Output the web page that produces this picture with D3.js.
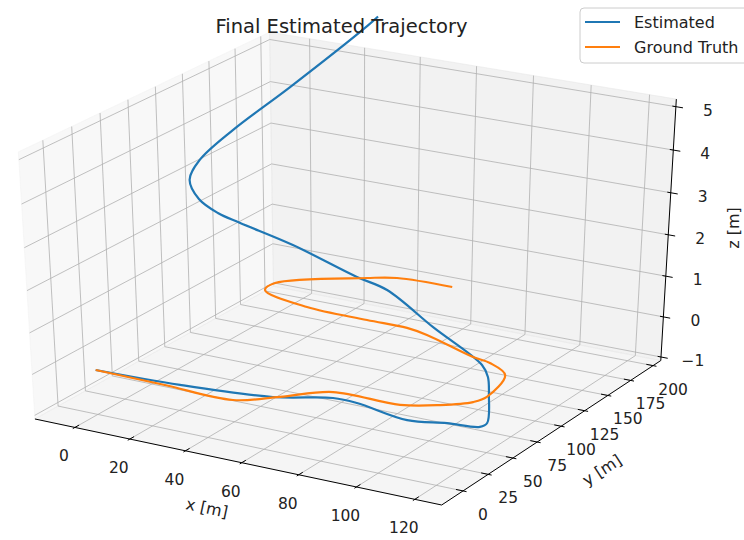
<!DOCTYPE html>
<html><head><meta charset="utf-8">
<script src="https://cdn.jsdelivr.net/npm/d3@7"></script>
<style>body{margin:0;background:#fff} svg{display:block}</style>
</head><body><svg id="c" width="744" height="540"></svg>
<script>
// ---------------- data ----------------
const titleText = "Final Estimated Trajectory";
const seriesNames = ["Estimated", "Ground Truth"];
const seriesColors = ["#1f77b4", "#ff7f0e"];
const xTicks = [0, 20, 40, 60, 80, 100, 120];
const yTicks = [0, 25, 50, 75, 100, 125, 150, 175, 200];
const zTicks = [-1, 0, 1, 2, 3, 4, 5];
const axisLabels = ["x [m]", "y [m]", "z [m]"];

const estX = [0, 29.4, 59.3, 75.5, 83.9, 102.5, 112.4, 122.5, 122.8, 115.1, 109.0, 104.1, 81.7, 59.9, 49.5, 24.7, 12.0, 7.4, 2.8, -0.7, -0.5, 6.3, 17.2, 30.6, 32.0];
const estY = [0, 2.8, 10.9, 24.3, 24.1, 20.8, 31.7, 35.1, 41.5, 65.6, 82.4, 90.6, 105.4, 120.6, 119.4, 123.9, 107.0, 98.1, 92.5, 93.3, 102.7, 116.8, 143.0, 182.5, 188.5];
const estZ = [0, 0, 0, 0, 0, -0.1, -0.2, -0.2, -0.2, 0, 0.1, 0.2, 0.6, 1.0, 1.2, 1.6, 2.2, 2.5, 2.85, 3.25, 3.6, 4.2, 5.0, 6.1, 6.25];

const gtX = [0, 25, 50.2, 61.1, 72.9, 96.0, 106.5, 113.9, 115.4, 111.1, 101.9, 94.8, 72.6, 64.0, 49.4, 26.8, 6.8, 6.1, 29.3, 37.7, 57.4];
const gtY = [0, -1, -2.3, 12.8, 31.4, 32.2, 41.6, 53.2, 62.7, 94.0, 105.4, 108.8, 125.5, 129.6, 129.9, 131.6, 143.4, 155.4, 185.8, 193.6, 195.5];
const gtZ = [0, 0, 0, 0, 0, 0, 0, 0, 0, 0, 0, 0, 0, 0, 0, 0, 0, 0, 0, 0, 0];

// ---------------- view / layout config ----------------
const xLim = [-14.7, 129.1], yLim = [-20.9, 208.7], zLim = [-1.089, 5.173];
const elev = 30, azim = -60, dist = 10;
const kx = 4695, ox = 352.7, ky = 3049, oy = 260.5;

const svg = d3.select("#c");
const font = "'DejaVu Sans', sans-serif";

const nx = d3.scaleLinear().domain(xLim).range([0, 1]);
const ny = d3.scaleLinear().domain(yLim).range([0, 1]);
const nz = d3.scaleLinear().domain(zLim).range([0, 1]);
const SX = d3.scaleLinear().domain([0, 0.1]).range([ox, ox + kx * 0.1]);
const SY = d3.scaleLinear().domain([0, 0.1]).range([oy, oy - ky * 0.1]);

const el = elev * Math.PI / 180, az = azim * Math.PI / 180;
const N = [Math.cos(el) * Math.cos(az), Math.cos(el) * Math.sin(az), Math.sin(el)];
let U = [-N[1], N[0], 0];
const un = Math.hypot(U[0], U[1]); U = U.map(v => v / un);
const V = [N[1] * U[2] - N[2] * U[1], N[2] * U[0] - N[0] * U[2], N[0] * U[1] - N[1] * U[0]];
const dot = (a, b) => a[0] * b[0] + a[1] * b[1] + a[2] * b[2];

function proj(x, y, z) {
  const p = [nx(x) - 0.5, ny(y) - 0.5, nz(z) - 0.5];
  const w = dist - dot(N, p);
  return [SX(dot(U, p) / w), SY(dot(V, p) / w)];
}

const [x0, x1] = xLim, [y0, y1] = yLim, [z0, z1] = zLim;
const lineGen = d3.line();

// panes
const panes = [
  {pts: [[x0, y0, z0], [x0, y1, z0], [x0, y1, z1], [x0, y0, z1]], fill: "rgba(242,242,242,0.5)"},
  {pts: [[x0, y1, z0], [x1, y1, z0], [x1, y1, z1], [x0, y1, z1]], fill: "rgba(230,230,230,0.5)"},
  {pts: [[x0, y0, z0], [x1, y0, z0], [x1, y1, z0], [x0, y1, z0]], fill: "rgba(236,236,236,0.5)"}
];
const gPanes = svg.append("g");
panes.forEach(p => {
  gPanes.append("path").attr("d", lineGen(p.pts.map(q => proj(...q))) + "Z")
    .attr("fill", p.fill).attr("stroke", p.fill);
});

// grid
const grid = [];
xTicks.forEach(t => { grid.push([[t, y0, z0], [t, y1, z0]]); grid.push([[t, y1, z0], [t, y1, z1]]); });
yTicks.forEach(t => { grid.push([[x0, t, z0], [x1, t, z0]]); grid.push([[x0, t, z0], [x0, t, z1]]); });
zTicks.forEach(t => { grid.push([[x0, y0, t], [x0, y1, t]]); grid.push([[x0, y1, t], [x1, y1, t]]); });
const gGrid = svg.append("g");
grid.forEach(s => {
  gGrid.append("path").attr("d", lineGen(s.map(q => proj(...q))))
    .attr("fill", "none").attr("stroke", "#b0b0b0").attr("stroke-width", 0.8);
});

// axis lines
const gAx = svg.append("g");
[[[x0, y0, z0], [x1, y0, z0]], [[x1, y0, z0], [x1, y1, z0]], [[x1, y1, z0], [x1, y1, z1]]].forEach(s => {
  gAx.append("path").attr("d", lineGen(s.map(q => proj(...q))))
    .attr("fill", "none").attr("stroke", "#000").attr("stroke-width", 1);
});

const fmt = d3.format("");
const dxr = (x1 - x0) / 12, dyr = (y1 - y0) / 12;
xTicks.forEach(t => {
  const a = proj(t, y0 - 0.1 * dyr, z0), b = proj(t, y0 + 0.2 * dyr, z0);
  gAx.append("path").attr("d", lineGen([a, b])).attr("stroke", "#000").attr("stroke-width", 1);
  const c = proj(t, y0, z0);
  gAx.append("text").attr("x", c[0] - 11).attr("y", c[1] + 29).attr("text-anchor", "middle")
    .attr("dominant-baseline", "central").attr("font-family", font).attr("font-size", 15.5)
    .attr("fill", "#222").text(fmt(t));
});
yTicks.forEach(t => {
  const a = proj(x1 + 0.1 * dxr, t, z0), b = proj(x1 - 0.2 * dxr, t, z0);
  gAx.append("path").attr("d", lineGen([a, b])).attr("stroke", "#000").attr("stroke-width", 1);
  const c = proj(x1, t, z0);
  gAx.append("text").attr("x", c[0] + 20).attr("y", c[1] + 24).attr("text-anchor", "middle")
    .attr("dominant-baseline", "central").attr("font-family", font).attr("font-size", 15.5)
    .attr("fill", "#222").text(fmt(t));
});
zTicks.forEach(t => {
  const a = proj(x1 + 0.2 * dxr, y1, t), b = proj(x1 - 0.1 * dxr, y1, t);
  gAx.append("path").attr("d", lineGen([a, b])).attr("stroke", "#000").attr("stroke-width", 1);
  const c = proj(x1, y1, t);
  gAx.append("text").attr("x", c[0] + 32).attr("y", c[1] + 4).attr("text-anchor", "middle")
    .attr("dominant-baseline", "central").attr("font-family", font).attr("font-size", 15.5)
    .attr("fill", "#222").text(fmt(t));
});

// axis labels
const lab = [
  {t: axisLabels[0], x: 207, y: 508, r: 12},
  {t: axisLabels[1], x: 602, y: 470, r: -33},
  {t: axisLabels[2], x: 733, y: 228, r: -90}
];
lab.forEach(l => {
  svg.append("text").attr("transform", `translate(${l.x},${l.y}) rotate(${l.r})`)
    .attr("text-anchor", "middle").attr("dominant-baseline", "central")
    .attr("font-family", font).attr("font-size", 16).attr("fill", "#222").text(l.t);
});

// data lines
const curve = d3.line().curve(d3.curveCatmullRom.alpha(0.5));
const series = [
  {xs: estX, ys: estY, zs: estZ, c: seriesColors[0]},
  {xs: gtX, ys: gtY, zs: gtZ, c: seriesColors[1]}
];
series.forEach(s => {
  const pts = s.xs.map((v, i) => proj(v, s.ys[i], s.zs[i]));
  svg.append("path").attr("d", curve(pts)).attr("fill", "none")
    .attr("stroke", s.c).attr("stroke-width", 2.2).attr("stroke-linejoin", "round");
});

// title
svg.append("text").attr("x", 341.5).attr("y", 33).attr("text-anchor", "middle")
  .attr("font-family", font).attr("font-size", 19.5).attr("fill", "#222").text(titleText);

// legend
const lg = svg.append("g");
lg.append("rect").attr("x", 580).attr("y", 8).attr("width", 175).attr("height", 55).attr("rx", 4)
  .attr("fill", "rgba(255,255,255,0.8)").attr("stroke", "#cccccc");
seriesNames.forEach((n, i) => {
  const yy = 22 + i * 25;
  lg.append("line").attr("x1", 585).attr("x2", 620).attr("y1", yy).attr("y2", yy)
    .attr("stroke", seriesColors[i]).attr("stroke-width", 2.2);
  lg.append("text").attr("x", 634).attr("y", yy).attr("dominant-baseline", "central")
    .attr("font-family", font).attr("font-size", 16).attr("fill", "#222").text(n);
});
</script></body></html>
